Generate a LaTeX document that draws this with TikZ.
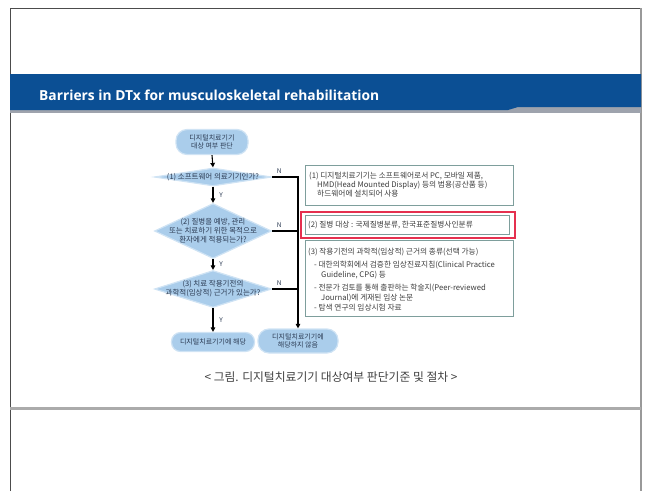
\documentclass[tikz,border=0pt]{standalone}
\usepackage{fontspec}
\setmainfont{Noto Sans CJK KR}
\newfontfamily\titlefont{Open Sans}
\usetikzlibrary{arrows.meta,shapes.geometric,calc}

\definecolor{bandblue}{HTML}{0B4F94}
\definecolor{bandshade}{HTML}{9EA3AD}
\definecolor{shapefill}{HTML}{AACDEB}
\definecolor{shapeedge}{HTML}{CFE3F4}
\definecolor{boxline}{HTML}{7E9E9C}
\definecolor{hilite}{HTML}{E5304F}
\definecolor{inktext}{HTML}{2B3A52}
\definecolor{bodytext}{HTML}{3C3C3C}

\begin{document}
\begin{tikzpicture}[x=1pt,y=-1pt,
  flow/.style={fill=shapefill, draw=shapeedge, line width=1.2pt, text=inktext,
    font=\fontsize{7}{8.6}\selectfont, align=center, inner sep=0pt},
  term/.style={flow, rectangle},
  dia/.style={flow, diamond, minimum width=117pt},
  diatext/.style={text=inktext, font=\fontsize{7.5}{9}\selectfont, align=center, inner sep=0pt},
  link/.style={draw=black, line width=1.1pt},
  arr/.style={link, -{Triangle[length=4.5pt,width=4.5pt]}},
  lbl/.style={text=inktext, font=\fontsize{6.5}{7}\selectfont, inner sep=0pt},
  infobox/.style={draw=boxline, line width=0.9pt, rectangle, inner sep=0pt, anchor=north west},
  markbox/.style={draw=hilite, line width=1.5pt, rectangle, inner sep=0pt, anchor=north west},
  infotext/.style={text=bodytext, font=\fontsize{7.7}{9.2}\selectfont, align=left, inner sep=0pt, anchor=north west}
]
\useasboundingbox (0,0) rectangle (646,491);

% slide frame
\draw[color=black!70, line width=0.9pt] (10,491) -- (10,8) -- (641,8);
\draw[color=black!40, line width=2pt] (641,8) -- (641,491);

% title band
\fill[bandshade] (10,106) rectangle (641,113);
\fill[bandblue] (10,74) -- (641,74) -- (641,107) -- (518,107) -- (508,110) -- (10,110) -- cycle;
\node[anchor=west, text=white, inner sep=0pt,
      font=\titlefont\bfseries\fontsize{13.8}{15}\selectfont] (title) at (39,95.5)
  {Barriers in DTx for musculoskeletal rehabilitation};

% bottom rule
\draw[color=black!33, line width=3pt] (10,408) -- (641,408);

% flowchart
\node[term, rounded corners=11pt, minimum width=72pt, minimum height=25pt] (start) at (212,142)
  {디지털치료기기\\대상 여부 판단};
\node[dia, minimum height=18pt] (d1) at (213,177) {};
\node[diatext] (d1t) at (d1) {(1) 소프트웨어 의료기기인가?};
\node[dia, minimum height=55pt] (d2) at (213,231) {};
\node[diatext] (d2t) at (d2) {(2) 질병을 예방, 관리\\또는 치료하기 위한 목적으로\\환자에게 적용되는가?};
\node[dia, minimum height=37pt] (d3) at (213,289) {};
\node[diatext] (d3t) at (d3) {(3) 치료 작용기전의\\과학적(임상적) 근거가 있는가?};
\node[term, rounded corners=9pt, minimum width=83pt, minimum height=19pt] (t1) at (213,342)
  {디지털치료기기에 해당};
\node[term, rounded corners=11pt, minimum width=80pt, minimum height=24pt] (t2) at (298,341)
  {디지털치료기기에\\해당하지 않음};

% yes branch
\draw[arr] (start.south) -- (d1.north);
\draw[arr] (d1.south) -- (d2.north);
\draw[arr] (d2.south) -- (d3.north);
\draw[arr] (d3.south) -- (t1.north);
\node[lbl] (y1) at ($($(d1.south)!0.5!(d2.north)$)+(8,0)$) {Y};
\node[lbl] (y2) at ($($(d2.south)!0.5!(d3.north)$)+(8,0)$) {Y};
\node[lbl] (y3) at ($($(d3.south)!0.5!(t1.north)$)+(8,0)$) {Y};

% no branch
\draw[arr] (d1.east) -| (t2.north);
\draw[link] (d2.east) -- (d2.east -| t2.north);
\draw[link] (d3.east) -- (d3.east -| t2.north);
\node[lbl] (n1) at ($(d1.east)+(7,-6)$) {N};
\node[lbl] (n2) at ($(d2.east)+(7,-6)$) {N};
\node[lbl] (n3) at ($(d3.east)+(7,-6)$) {N};

% criteria boxes
\node[infobox, minimum width=208pt, minimum height=40pt] (b1) at (305,165) {};
\node[infotext] (b1t) at (309,172)
  {(1) 디지털치료기기는 소프트웨어로서 PC, 모바일 제품,\\
   \hspace*{8pt}HMD(Head Mounted Display) 등의 범용(공산품 등)\\
   \hspace*{8pt}하드웨어에 설치되어 사용};

\node[markbox, minimum width=214pt, minimum height=26pt] (b2r) at (300,211) {};
\node[infobox, minimum width=204pt, minimum height=19pt] (b2) at (305,214.5) {};
\node[infotext] (b2t) at (308,220.5) {(2) 질병 대상 : 국제질병분류, 한국표준질병사인분류};

\node[infobox, minimum width=208pt, minimum height=76pt] (b3) at (305,240) {};
\node[infotext, font=\fontsize{7.7}{10}\selectfont] (b3t) at (308,247.5)
  {(3) 작용기전의 과학적(임상적) 근거의 종류(선택 가능)\\[3.3pt]
   \hspace*{6pt}- 대한의학회에서 검증한 임상진료지침(Clinical Practice\\
   \hspace*{13pt}Guideline, CPG) 등\\[3.3pt]
   \hspace*{6pt}- 전문가 검토를 통해 출판하는 학술지(Peer-reviewed\\
   \hspace*{13pt}Journal)에 게재된 임상 논문\\
   \hspace*{6pt}- 탐색 연구의 임상시험 자료};

% caption
\node[text=black!75, inner sep=0pt, font=\fontsize{11.8}{13}\selectfont] (cap) at (331,377)
  {< 그림. 디지털치료기기 대상여부 판단기준 및 절차 >};
\end{tikzpicture}
\end{document}
